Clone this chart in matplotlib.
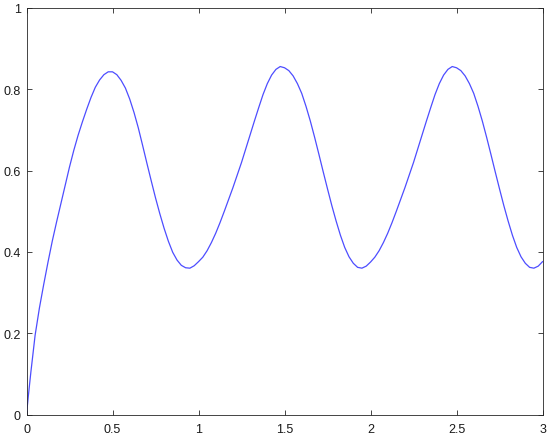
import matplotlib
matplotlib.use("Agg")
import matplotlib.pyplot as plt

# Values (x step 0.025)
x_first = [0.000, 0.010, 0.025, 0.050, 0.075, 0.100, 0.125, 0.150, 0.175, 0.200, 0.225,
           0.250, 0.275, 0.300, 0.325, 0.350, 0.375, 0.400, 0.425, 0.450, 0.475, 0.500,
           0.525, 0.550, 0.575, 0.600, 0.625, 0.650, 0.675, 0.700, 0.725, 0.750, 0.775,
           0.800, 0.825, 0.850, 0.875, 0.900, 0.925, 0.950, 0.975]
y_first = [0.000, 0.043, 0.103, 0.195, 0.262, 0.320, 0.375, 0.427, 0.474, 0.519, 0.564,
           0.609, 0.650, 0.687, 0.720, 0.751, 0.780, 0.805, 0.823, 0.836, 0.843, 0.843,
           0.836, 0.822, 0.803, 0.776, 0.743, 0.705, 0.662, 0.618, 0.575, 0.533, 0.494,
           0.458, 0.426, 0.399, 0.380, 0.367, 0.361, 0.360, 0.366]

x_second = [1.000, 1.025, 1.050, 1.075, 1.100, 1.125, 1.150, 1.175, 1.200, 1.225, 1.250,
            1.275, 1.300, 1.325, 1.350, 1.375, 1.400, 1.425, 1.450, 1.475, 1.500, 1.525,
            1.550, 1.575, 1.600, 1.625, 1.650, 1.675, 1.700, 1.725, 1.750, 1.775, 1.800,
            1.825, 1.850, 1.875, 1.900, 1.925, 1.950, 1.975]
y_second = [0.376, 0.387, 0.403, 0.423, 0.446, 0.472, 0.500, 0.529, 0.558, 0.589, 0.620,
            0.654, 0.688, 0.722, 0.755, 0.787, 0.814, 0.835, 0.849, 0.856, 0.853, 0.846,
            0.833, 0.814, 0.790, 0.758, 0.722, 0.682, 0.640, 0.597, 0.555, 0.514, 0.476,
            0.441, 0.411, 0.388, 0.372, 0.362, 0.360, 0.365]

x_third = [2.000, 2.025, 2.050, 2.075, 2.100, 2.125, 2.150, 2.175, 2.200, 2.225, 2.250,
           2.275, 2.300, 2.325, 2.350, 2.375, 2.400, 2.425, 2.450, 2.475, 2.500, 2.525,
           2.550, 2.575, 2.600, 2.625, 2.650, 2.675, 2.700, 2.725, 2.750, 2.775, 2.800,
           2.825, 2.850, 2.875, 2.900, 2.925, 2.950, 2.975, 3.000]
y_third = [0.375, 0.387, 0.403, 0.423, 0.446, 0.472, 0.500, 0.529, 0.558, 0.589, 0.620,
           0.654, 0.688, 0.722, 0.755, 0.787, 0.814, 0.835, 0.849, 0.856, 0.853, 0.846,
           0.833, 0.814, 0.790, 0.758, 0.722, 0.682, 0.640, 0.597, 0.555, 0.514, 0.476,
           0.441, 0.411, 0.388, 0.372, 0.362, 0.360, 0.365, 0.376]

x_ticks = [0, 0.5, 1, 1.5, 2, 2.5, 3]
x_tick_labels = ["0", "0.5", "1", "1.5", "2", "2.5", "3"]
y_ticks = [0, 0.2, 0.4, 0.6, 0.8, 1]
y_tick_labels = ["0", "0.2", "0.4", "0.6", "0.8", "1"]

x_vals = x_first + x_second + x_third
y_vals = y_first + y_second + y_third

plt.rcParams['font.family'] = ['Liberation Sans', 'DejaVu Sans']

fig = plt.figure(figsize=(5.5, 4.39), dpi=100)
ax = fig.add_axes([0.0482, 0.0535, 0.9382, 0.926])
ax.plot(x_vals, y_vals, color=(0.3, 0.3, 1.0), lw=0.9)
ax.set_xlim(0, 3)
ax.set_ylim(0, 1)
ax.set_xticks(x_ticks)
ax.set_xticklabels(x_tick_labels)
ax.set_yticks(y_ticks)
ax.set_yticklabels(y_tick_labels)
for s in ax.spines.values():
    s.set_color('0.15')
    s.set_linewidth(0.6)
ax.tick_params(direction='in', length=3.6, width=0.6, color='0.15', labelsize=9,
               labelcolor='0.1', top=True, right=True)
ax.tick_params(axis='x', pad=6)
ax.tick_params(axis='y', pad=4)
fig.savefig("out.png", dpi=100)
